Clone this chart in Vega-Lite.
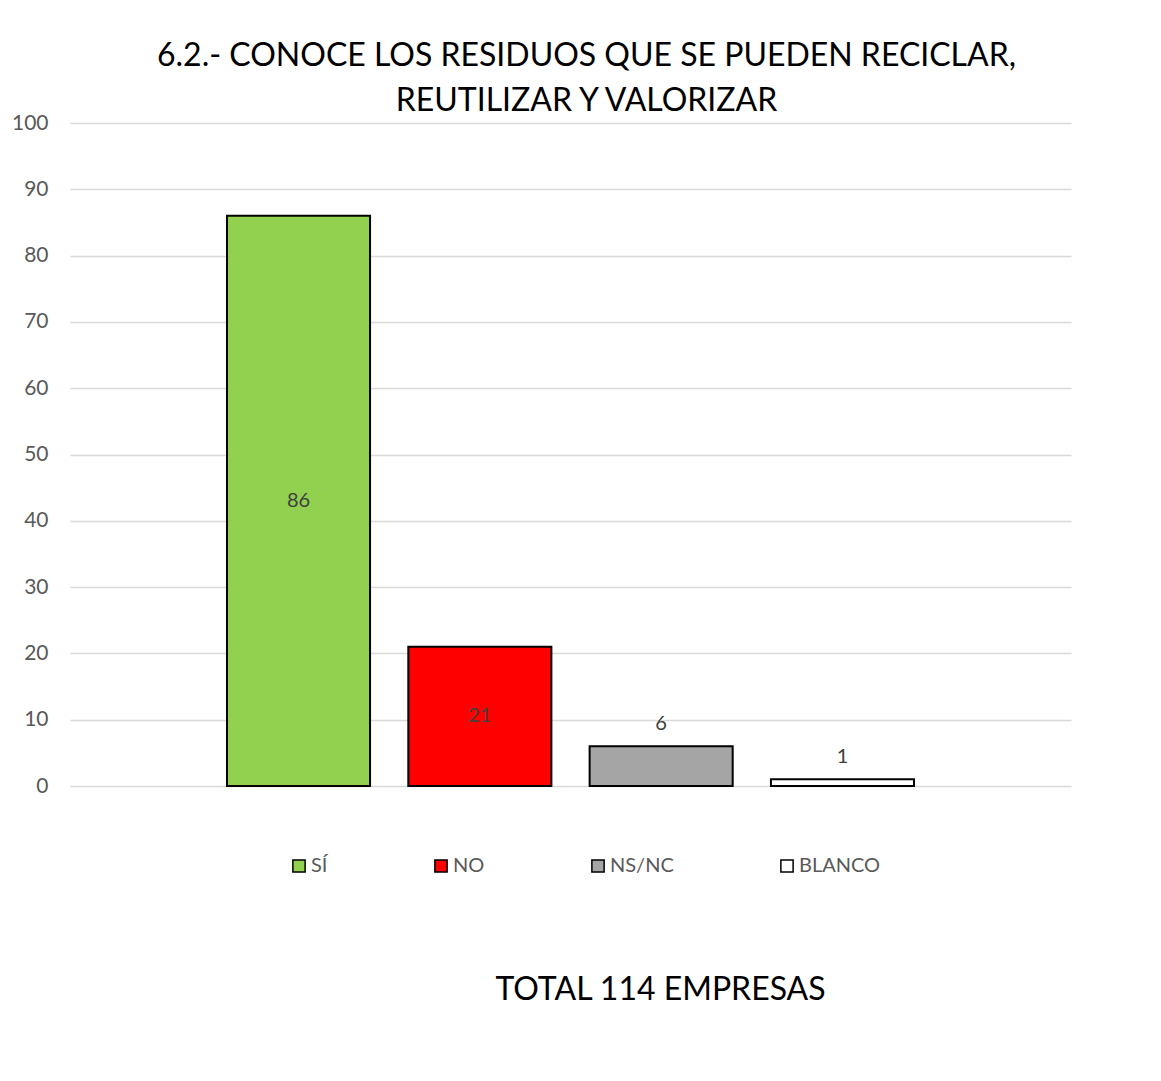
{
  "$schema": "https://vega.github.io/schema/vega-lite/v6.json",
  "width": 1001,
  "height": 663,
  "autosize": {"type": "none"},
  "padding": {"left": 70, "top": 123, "right": 90, "bottom": 295},
  "background": "white",
  "config": {
    "font": "Lato",
    "view": {"stroke": null}
  },
  "title": {
    "text": ["6.2.- CONOCE LOS RESIDUOS QUE SE PUEDEN RECICLAR,", "REUTILIZAR Y VALORIZAR"],
    "font": "Lato",
    "fontSize": 32,
    "fontWeight": "normal",
    "color": "#000000",
    "lineHeight": 45,
    "anchor": "middle",
    "frame": "group",
    "dx": 16,
    "baseline": "alphabetic",
    "offset": -31
  },
  "data": {
    "values": [
      {"respuesta": "SÍ", "empresas": 86},
      {"respuesta": "NO", "empresas": 21},
      {"respuesta": "NS/NC", "empresas": 6},
      {"respuesta": "BLANCO", "empresas": 1}
    ]
  },
  "encoding": {
    "x": {
      "field": "respuesta",
      "type": "nominal",
      "sort": ["SÍ", "NO", "NS/NC", "BLANCO"],
      "scale": {"paddingInner": 0.211, "paddingOuter": 0.866},
      "axis": {
        "labels": false,
        "ticks": false,
        "domain": false,
        "grid": false,
        "title": "TOTAL 114 EMPRESAS",
        "titleFont": "Lato",
        "titleFontSize": 32,
        "titleFontWeight": "normal",
        "titleColor": "#000000",
        "titleX": 590,
        "titlePadding": 188
      }
    }
  },
  "layer": [
    {
      "mark": {"type": "bar", "stroke": "#000000", "strokeWidth": 2},
      "encoding": {
        "y": {
          "field": "empresas",
          "type": "quantitative",
          "scale": {"domain": [0, 100]},
          "axis": {
            "values": [0, 10, 20, 30, 40, 50, 60, 70, 80, 90, 100],
            "title": null,
            "domain": false,
            "ticks": false,
            "grid": true,
            "gridColor": "#d9d9d9",
            "gridWidth": 1.5,
            "labelFont": "Lato",
            "labelFontSize": 21,
            "labelColor": "#595959",
            "labelPadding": 22
          }
        },
        "color": {
          "field": "respuesta",
          "type": "nominal",
          "scale": {
            "domain": ["SÍ", "NO", "NS/NC", "BLANCO"],
            "range": ["#92d050", "#ff0000", "#a5a5a5", "#ffffff"]
          },
          "legend": {
            "title": null,
            "orient": "none",
            "legendX": 219,
            "legendY": 733,
            "direction": "horizontal",
            "padding": 0,
            "symbolType": "square",
            "symbolSize": 150,
            "symbolStrokeColor": "#000000",
            "symbolStrokeWidth": 1.5,
            "labelFont": "Lato",
            "labelFontSize": 20,
            "labelColor": "#595959",
            "labelOffset": 2,
            "columnPadding": 103
          }
        }
      }
    },
    {
      "transform": [{"filter": "datum.empresas >= 15"}],
      "mark": {"type": "text", "fontSize": 20, "font": "Lato", "color": "#404040", "baseline": "middle"},
      "encoding": {
        "y": {
          "field": "empresas",
          "type": "quantitative",
          "scale": {"domain": [0, 200]},
          "axis": null
        },
        "text": {"field": "empresas", "type": "quantitative"}
      }
    },
    {
      "transform": [{"filter": "datum.empresas < 15"}],
      "mark": {"type": "text", "fontSize": 20, "font": "Lato", "color": "#404040", "baseline": "bottom", "dy": -12},
      "encoding": {
        "y": {
          "field": "empresas",
          "type": "quantitative",
          "scale": {"domain": [0, 100]},
          "axis": null
        },
        "text": {"field": "empresas", "type": "quantitative"}
      }
    }
  ],
  "resolve": {"scale": {"y": "independent"}}
}
